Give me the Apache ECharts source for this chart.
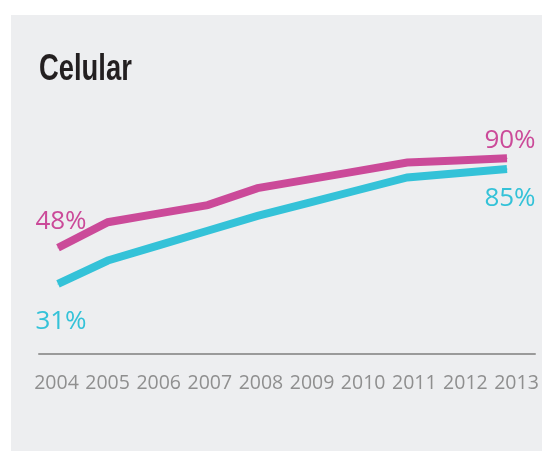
<!DOCTYPE html>
<html>
<head>
<meta charset="utf-8">
<title>Celular</title>
<script src="https://cdn.jsdelivr.net/npm/echarts@6/dist/echarts.min.js"></script>
<style>
  html, body { margin: 0; padding: 0; background: #ffffff; }
  #panel { position: absolute; left: 11px; top: 15px; width: 531px; height: 436px; background: #edeef0; }
  #chart { position: absolute; left: 0; top: 0; width: 542px; height: 451px; }
</style>
</head>
<body>
<div id="panel"></div>
<div id="chart"></div>
<script>
// Years shown along the bottom axis
const years = ['2004', '2005', '2006', '2007', '2008', '2009', '2010', '2011', '2012', '2013'];
// Percentage values for the two series
const upperSeries = [48, 60, 64, 68, 76, 80, 84, 88, 89, 90];
const lowerSeries = [31, 42, 49, 56, 63, 69, 75, 81, 83, 85];

const MAGENTA = '#cb4a99';
const CYAN = '#34c2d8';
const LABEL_FONT = "'Open Sans', 'DejaVu Sans', sans-serif";

// Only the first and last points carry a value label
function withEndLabels(values, color, firstLabel, lastLabel) {
  return values.map(function (v, i) {
    if (i === 0) return { value: v, label: Object.assign({ show: true, color: color }, firstLabel) };
    if (i === values.length - 1) return { value: v, label: Object.assign({ show: true, color: color }, lastLabel) };
    return v;
  });
}

const chart = echarts.init(document.getElementById('chart'), null, { renderer: 'canvas' });

chart.setOption({
  backgroundColor: 'transparent',
  animation: false,
  // Condensed heading: a bold sans squeezed horizontally
  graphic: [
    {
      type: 'text',
      x: 39,
      y: 69.5,
      scaleX: 0.74,
      style: {
        text: 'Celular',
        fill: '#231f20',
        font: "bold 37px 'Liberation Sans', Arial, sans-serif",
        align: 'left',
        verticalAlign: 'middle'
      }
    }
  ],
  grid: [
    // plot area for the two lines
    { left: 58, right: 35, top: 137, bottom: 101 },
    // year labels
    { left: 56.5, right: 25.5, top: 137, bottom: 97 },
    // baseline rule
    { left: 39, right: 7, top: 137, bottom: 97 }
  ],
  xAxis: [
    {
      type: 'category', gridIndex: 0, data: years, boundaryGap: false,
      axisLine: { show: false }, axisTick: { show: false }, axisLabel: { show: false }, splitLine: { show: false }
    },
    {
      type: 'category', gridIndex: 1, data: years, boundaryGap: false,
      axisLine: { show: false }, axisTick: { show: false }, splitLine: { show: false },
      axisLabel: { show: true, interval: 0, margin: 19, color: '#8f8f8f', fontSize: 19.5, fontFamily: LABEL_FONT }
    },
    {
      type: 'category', gridIndex: 2, data: years, boundaryGap: false,
      axisLine: { show: true, lineStyle: { color: '#9a9a9a', width: 2 } },
      axisTick: { show: false }, axisLabel: { show: false }, splitLine: { show: false }
    }
  ],
  yAxis: [
    { type: 'value', gridIndex: 0, min: 0, max: 100, show: false },
    { type: 'value', gridIndex: 1, min: 0, max: 100, show: false },
    { type: 'value', gridIndex: 2, min: 0, max: 100, show: false }
  ],
  series: [
    {
      type: 'line',
      xAxisIndex: 0, yAxisIndex: 0,
      data: withEndLabels(upperSeries, MAGENTA,
        { position: 'top', distance: 13, offset: [3, 0] },
        { position: 'top', distance: 4, offset: [3, 0] }),
      symbol: 'circle',
      symbolSize: 1,
      showSymbol: true,
      itemStyle: { color: MAGENTA },
      lineStyle: { color: MAGENTA, width: 8, cap: 'butt', join: 'miter' },
      label: { formatter: '{c}%', fontSize: 26, fontFamily: LABEL_FONT },
      z: 3
    },
    {
      type: 'line',
      xAxisIndex: 0, yAxisIndex: 0,
      data: withEndLabels(lowerSeries, CYAN,
        { position: 'bottom', distance: 24, offset: [3, 0] },
        { position: 'bottom', distance: 16, offset: [3, 0] }),
      symbol: 'circle',
      symbolSize: 1,
      showSymbol: true,
      itemStyle: { color: CYAN },
      lineStyle: { color: CYAN, width: 8, cap: 'butt', join: 'miter' },
      label: { formatter: '{c}%', fontSize: 26, fontFamily: LABEL_FONT },
      z: 2
    }
  ]
});
</script>
</body>
</html>
